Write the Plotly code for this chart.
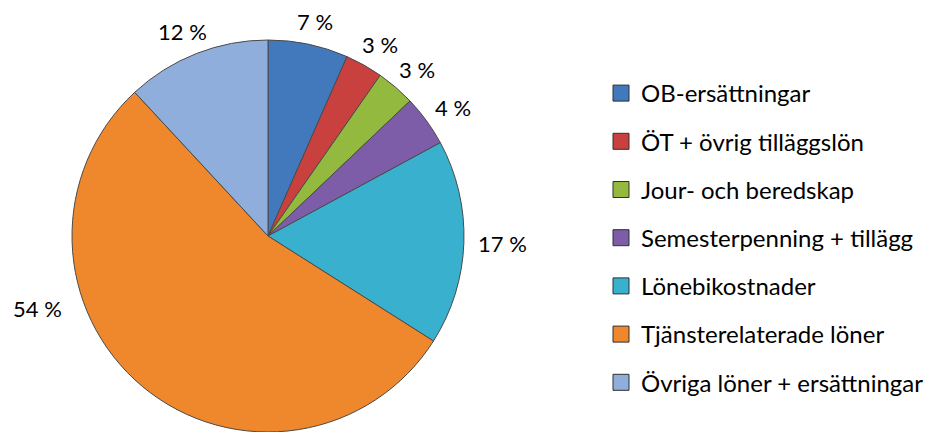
import math
import plotly.graph_objects as go

categories = ["OB-ersättningar", "ÖT + övrig tilläggslön", "Jour- och beredskap",
              "Semesterpenning + tillägg", "Lönebikostnader", "Tjänsterelaterade löner",
              "Övriga löner + ersättningar"]
values = [6.6, 3.1, 3.2, 4.2, 16.9, 54.1, 11.9]
colors = ["#4279BC", "#C8413F", "#93BA3F", "#7D5CA8", "#3AB0CF", "#EF872C", "#8FAEDC"]

FONT = "Lato, 'Open Sans', sans-serif"
W, H = 935, 432
OFF = 8                      # page body margin of the screenshot
cx, cy, r = 268 - OFF, 236 - OFF, 196
LABEL_SIZE = 22

fig = go.Figure()
fig.add_trace(go.Pie(
    labels=categories, values=values, sort=False, direction="clockwise", rotation=0,
    marker=dict(colors=colors, line=dict(color="#4a4a4a", width=1)),
    textinfo="none", showlegend=False, hoverinfo="label+percent",
    domain=dict(x=[(cx - r) / W, (cx + r) / W], y=[(H - cy - r) / H, (H - cy + r) / H]),
))

# outside percentage labels, placed just outside each slice's mid-angle
total = sum(values)
start = 0.0
annotations = []
for i, v in enumerate(values):
    mid = (start + v / 2) / total * 2 * math.pi
    start += v
    txt = f"{v / total * 100:.0f} %"
    if i == 5:   # large slice: label put to the left side of the pie (best fit)
        px, py = 37 - OFF, 308 - OFF
    else:
        s, c = math.sin(mid), math.cos(mid)
        half_w = 0.55 * LABEL_SIZE * len(txt) / 2
        half_h = 0.42 * LABEL_SIZE
        d = r + 14
        px = cx + d * s + half_w * s
        py = cy - d * c - half_h * c
    annotations.append(dict(x=px / W, y=1 - py / H, xref="paper", yref="paper",
                            text=txt, showarrow=False, xanchor="center", yanchor="middle",
                            font=dict(family=FONT, size=LABEL_SIZE, color="#000000")))

for i, (c, col) in enumerate(zip(categories, colors)):
    fig.add_trace(go.Scatter(
        x=[None], y=[None], mode="markers", name=c, legendgroup=f"g{i}",
        marker=dict(symbol="square", size=16, color=col, line=dict(color="#303030", width=1)),
        hoverinfo="skip",
    ))

fig.update_layout(
    width=W, height=H, margin=dict(l=0, r=0, t=0, b=0),
    paper_bgcolor="white", plot_bgcolor="white",
    xaxis=dict(visible=False), yaxis=dict(visible=False),
    showlegend=True, annotations=annotations,
    legend=dict(x=(601 - OFF) / W, y=1 - (71 - OFF) / H, xanchor="left", yanchor="top",
                font=dict(family=FONT, size=24, color="#000000"),
                tracegroupgap=14, traceorder="grouped", bgcolor="rgba(0,0,0,0)"),
)
fig.write_html("out.html")
